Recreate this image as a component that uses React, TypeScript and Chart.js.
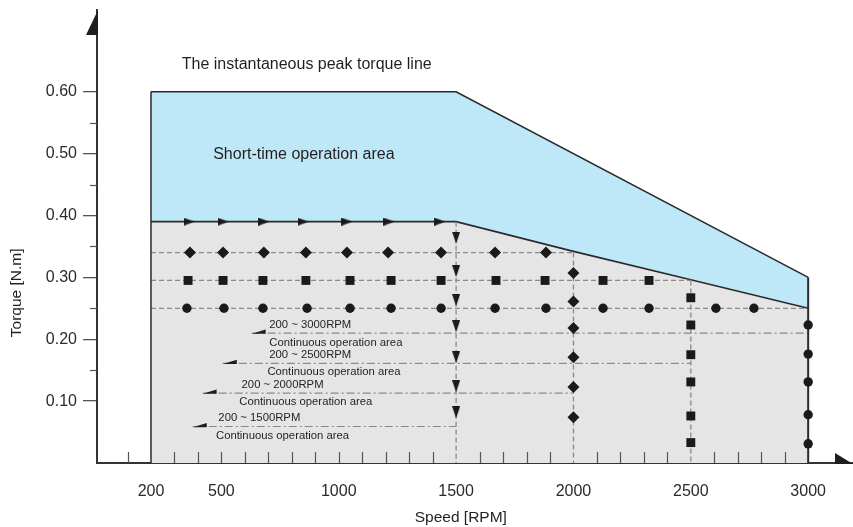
import React, { useEffect, useRef } from 'react';
import { Chart, registerables } from 'chart.js';

Chart.register(...registerables);

// ---------- data ----------
const xTickValues = [200, 500, 1000, 1500, 2000, 2500, 3000];
const xMinorTicks = [100, 300, 400, 500, 600, 700, 800, 900, 1000, 1100, 1200, 1300, 1400, 1600, 1700, 1800, 1900, 2100, 2200, 2300, 2400, 2600, 2700, 2800, 2900];
const yTickValues = [0.1, 0.2, 0.3, 0.4, 0.5, 0.6];
const yMinorTicks = [0.15, 0.25, 0.35, 0.45, 0.55];

const peakSpeed = [200, 1500, 3000];
const peakTorque = [0.6, 0.6, 0.3];
const contSpeed = [200, 1500, 2000, 2500, 3000];
const contTorque = [0.39, 0.39, 0.342, 0.296, 0.25];

const arrowRowSpeed = [362, 507, 681, 848, 1035, 1214, 1431];
const arrowRowTorque = 0.39;
const diamondRowSpeed = [366, 507, 681, 860, 1035, 1210, 1436, 1666, 1883];
const diamondRowTorque = 0.34;
const squareRowSpeed = [358, 507, 677, 860, 1048, 1223, 1436, 1670, 1879, 2126, 2322];
const squareRowTorque = 0.295;
const circleRowSpeed = [353, 511, 677, 865, 1048, 1223, 1436, 1666, 1883, 2126, 2322, 2607, 2769];
const circleRowTorque = 0.25;

const arrowColSpeed = 1500;
const arrowColTorque = [0.364, 0.31, 0.263, 0.221, 0.171, 0.124, 0.082];
const diamondColSpeed = 2000;
const diamondColTorque = [0.307, 0.261, 0.218, 0.171, 0.123, 0.074];
const squareColSpeed = 2500;
const squareColTorque = [0.267, 0.223, 0.175, 0.131, 0.076, 0.033];
const circleColSpeed = 3000;
const circleColTorque = [0.223, 0.176, 0.131, 0.078, 0.031];

const rangeLabels = ['200 ~ 3000RPM', '200 ~ 2500RPM', '200 ~ 2000RPM', '200 ~ 1500RPM'];
const rangeStartSpeed = [629, 506, 420, 378];
const rangeEndSpeed = [3000, 2500, 2000, 1500];
const rangeTorque = [0.21, 0.161, 0.113, 0.059];
const areaLabel = 'Continuous operation area';

// ---------- styles / annotation anchors ----------
const FONT = '"Liberation Sans", Arial, sans-serif';
const DARK = '#2a2a2a';
const DASH_GREY = '#8a8a8a';
const BLUE = 'rgb(190,232,248)';
const GREY = 'rgb(229,229,229)';

// text anchors in data coordinates [speed, torque]
const rangeLabelAnchor = [[704, 0.223], [704, 0.1745], [586, 0.127], [487, 0.0732]];
const areaLabelAnchor = [[704, 0.194], [696, 0.1475], [576, 0.099], [477, 0.044]];
const peakTextAnchor = [331, 0.643];
const shortTextAnchor = [465, 0.4977];

function pts(xs: number[], ys: number[]) {
  return xs.map((x, i) => ({ x, y: ys[i] }));
}
function row(xs: number[], y: number) {
  return xs.map((x) => ({ x, y }));
}
function col(x: number, ys: number[]) {
  return ys.map((y) => ({ x, y }));
}

function makeArrow(dir: 'right' | 'down') {
  const c = document.createElement('canvas');
  if (dir === 'right') {
    c.width = 11; c.height = 8;
    const g = c.getContext('2d')!;
    g.fillStyle = '#1a1a1a';
    g.beginPath(); g.moveTo(0, 0); g.lineTo(11, 4); g.lineTo(0, 8); g.closePath(); g.fill();
  } else {
    c.width = 8; c.height = 12;
    const g = c.getContext('2d')!;
    g.fillStyle = '#1a1a1a';
    g.beginPath(); g.moveTo(0, 0); g.lineTo(8, 0); g.lineTo(4, 12); g.closePath(); g.fill();
  }
  return c;
}

export default function App() {
  const ref = useRef<HTMLCanvasElement | null>(null);

  useEffect(() => {
    if (!ref.current) return;
    const rightArrow = makeArrow('right');
    const downArrow = makeArrow('down');

    const lineDs = (data: any[], opts: any) => ({
      type: 'line',
      data,
      pointRadius: 0,
      borderWidth: 1.3,
      borderColor: DASH_GREY,
      fill: false,
      tension: 0,
      ...opts,
    });
    const markerDs = (data: any[], opts: any) => ({
      type: 'line',
      data,
      showLine: false,
      pointBackgroundColor: '#1a1a1a',
      pointBorderWidth: 0,
      pointBorderColor: '#1a1a1a',
      order: 1,
      ...opts,
    });

    const decor = {
      id: 'decor',
      afterDraw(chart: any) {
        const { ctx, chartArea, scales } = chart;
        const xs = scales.x, ys = scales.y;
        const L = chartArea.left, B = chartArea.bottom, T = chartArea.top, R = chartArea.right;
        ctx.save();
        // axis arrows
        ctx.fillStyle = '#1e1e1e';
        ctx.beginPath();
        ctx.moveTo(L + 1, T); ctx.lineTo(L - 11, T + 25); ctx.lineTo(L + 1, T + 25); ctx.closePath(); ctx.fill();
        ctx.beginPath();
        ctx.moveTo(R, B + 1); ctx.lineTo(R - 18, B - 10); ctx.lineTo(R - 18, B + 1); ctx.closePath(); ctx.fill();
        // minor ticks
        ctx.strokeStyle = '#555';
        ctx.lineWidth = 1.2;
        yMinorTicks.forEach((v) => {
          const y = Math.round(ys.getPixelForValue(v)) + 0.5;
          ctx.beginPath(); ctx.moveTo(L - 7, y); ctx.lineTo(L, y); ctx.stroke();
        });
        xMinorTicks.forEach((v) => {
          const x = Math.round(xs.getPixelForValue(v)) + 0.5;
          ctx.beginPath(); ctx.moveTo(x, B - 11); ctx.lineTo(x, B); ctx.stroke();
        });
        // wedge arrows on the range lines
        ctx.fillStyle = '#1e1e1e';
        rangeStartSpeed.forEach((s, i) => {
          const x = xs.getPixelForValue(s);
          const y = ys.getPixelForValue(rangeTorque[i]);
          ctx.beginPath(); ctx.moveTo(x, y + 0.7); ctx.lineTo(x + 14, y + 0.7); ctx.lineTo(x + 14, y - 3.5); ctx.closePath(); ctx.fill();
        });
        // texts
        ctx.fillStyle = '#231f20';
        ctx.textBaseline = 'middle';
        ctx.textAlign = 'left';
        ctx.font = `11.3px ${FONT}`;
        rangeLabels.forEach((t, i) => {
          const a = rangeLabelAnchor[i];
          ctx.fillText(t, xs.getPixelForValue(a[0]), ys.getPixelForValue(a[1]));
          const b = areaLabelAnchor[i];
          ctx.fillText(areaLabel, xs.getPixelForValue(b[0]), ys.getPixelForValue(b[1]));
        });
        ctx.font = `16px ${FONT}`;
        ctx.fillText('The instantaneous peak torque line', xs.getPixelForValue(peakTextAnchor[0]), ys.getPixelForValue(peakTextAnchor[1]));
        ctx.fillText('Short-time operation area', xs.getPixelForValue(shortTextAnchor[0]), ys.getPixelForValue(shortTextAnchor[1]));
        // axis titles
        ctx.textAlign = 'center';
        ctx.font = `15.5px ${FONT}`;
        ctx.fillText('Speed [RPM]', xs.getPixelForValue(1520), B + 55);
        ctx.translate(17, ys.getPixelForValue(0.275));
        ctx.rotate(-Math.PI / 2);
        ctx.fillText('Torque [N.m]', 0, 0);
        ctx.restore();
      },
    };

    const chart = new Chart(ref.current, {
      type: 'line',
      data: {
        datasets: [
          lineDs(pts(peakSpeed, peakTorque), { fill: 'origin', backgroundColor: BLUE, borderColor: DARK, borderWidth: 1.6, order: 30 }),
          lineDs(pts(contSpeed, contTorque), { fill: 'origin', backgroundColor: GREY, borderColor: DARK, borderWidth: 1.6, order: 29 }),
          lineDs(col(200, [0, 0.6]), { borderColor: DARK, borderWidth: 1.5, order: 5 }),
          lineDs(col(3000, [0, 0.3]), { borderColor: DARK, borderWidth: 2, order: 5 }),
          // dashed rows and columns
          lineDs(row([200, 2000], diamondRowTorque), { borderDash: [5, 3], order: 10 }),
          lineDs(row([200, 2500], squareRowTorque), { borderDash: [5, 3], order: 10 }),
          lineDs(row([200, 3000], circleRowTorque), { borderDash: [5, 3], order: 10 }),
          lineDs(col(arrowColSpeed, [arrowRowTorque, 0]), { borderDash: [5, 3], order: 10 }),
          lineDs(col(diamondColSpeed, [diamondRowTorque, 0]), { borderDash: [5, 3], order: 10 }),
          lineDs(col(squareColSpeed, [squareRowTorque, 0]), { borderDash: [5, 3], order: 10 }),
          // dash-dot range lines
          ...rangeStartSpeed.map((s, i) =>
            lineDs(row([s, rangeEndSpeed[i]], rangeTorque[i]), { borderDash: [8, 3, 2, 3], borderWidth: 1.2, order: 11 })
          ),
          // markers
          markerDs(row(arrowRowSpeed, arrowRowTorque), { pointStyle: rightArrow, pointRadius: 5 }),
          markerDs(col(arrowColSpeed, arrowColTorque), { pointStyle: downArrow, pointRadius: 5 }),
          markerDs(row(diamondRowSpeed, diamondRowTorque), { pointStyle: 'rectRot', pointRadius: 6 }),
          markerDs(col(diamondColSpeed, diamondColTorque), { pointStyle: 'rectRot', pointRadius: 6 }),
          markerDs(row(squareRowSpeed, squareRowTorque), { pointStyle: 'rect', pointRadius: 6.3 }),
          markerDs(col(squareColSpeed, squareColTorque), { pointStyle: 'rect', pointRadius: 6.3 }),
          markerDs(row(circleRowSpeed, circleRowTorque), { pointStyle: 'circle', pointRadius: 4.7 }),
          markerDs(col(circleColSpeed, circleColTorque), { pointStyle: 'circle', pointRadius: 4.7 }),
        ] as any,
      },
      options: {
        responsive: false,
        animation: false,
        events: [],
        layout: { autoPadding: false, padding: { top: 10, right: 0, left: 0, bottom: 0 } },
        plugins: { legend: { display: false }, tooltip: { enabled: false } },
        scales: {
          x: {
            type: 'linear',
            min: -30,
            max: 3191,
            afterBuildTicks: (s: any) => { s.ticks = xTickValues.map((v) => ({ value: v })); },
            afterFit: (s: any) => { s.height = 64; s.paddingLeft = 0; s.paddingRight = 0; },
            grid: { display: false },
            border: { display: true, color: '#333', width: 2 },
            ticks: { padding: 11, color: '#2a2a2a', font: { family: FONT, size: 16 }, maxRotation: 0, callback: (v: any) => String(v) },
          },
          y: {
            type: 'linear',
            min: 0,
            max: 0.732,
            afterBuildTicks: (s: any) => { s.ticks = yTickValues.map((v) => ({ value: v })); },
            afterFit: (s: any) => { s.width = 97; s.paddingTop = 0; s.paddingBottom = 0; },
            grid: { drawOnChartArea: false, drawTicks: true, tickLength: 14, color: '#555', lineWidth: 1.3 },
            border: { display: true, color: '#333', width: 2 },
            ticks: { padding: 6, color: '#2a2a2a', font: { family: FONT, size: 16 }, callback: (v: any) => Number(v).toFixed(2) },
          },
        },
      },
      plugins: [decor],
    } as any);
    return () => chart.destroy();
  }, []);

  return (
    <div style={{ position: 'fixed', left: 0, top: 0, width: 853, height: 527, background: '#fff' }}>
      <canvas ref={ref} width={853} height={527} style={{ width: 853, height: 527, display: 'block' }} />
    </div>
  );
}
